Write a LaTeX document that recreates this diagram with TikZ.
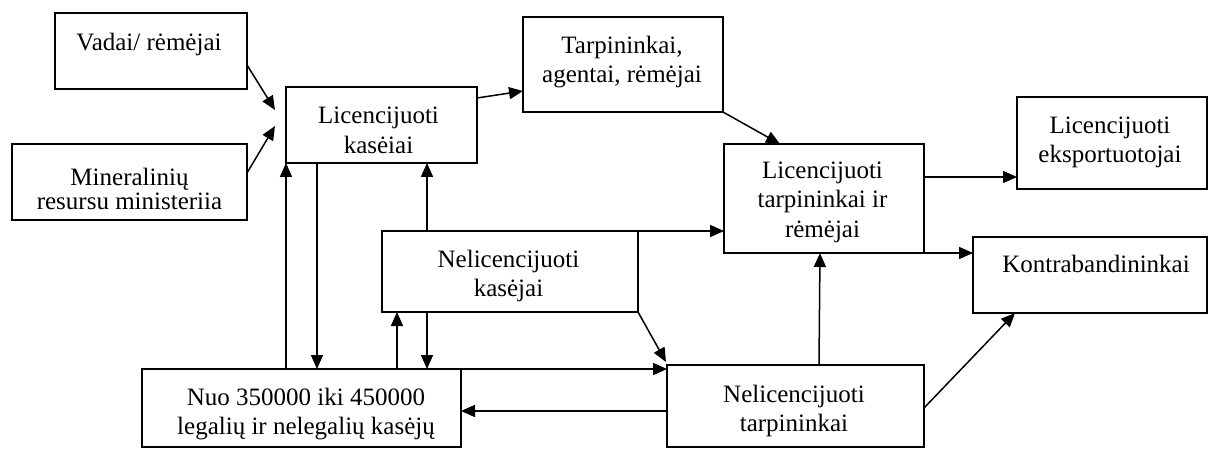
\documentclass[tikz,border=0pt]{standalone}
\usepackage{fontspec}
\setmainfont{Liberation Serif}
\usetikzlibrary{calc,arrows.meta}
\newcommand{\fl}{\rule{0pt}{20pt}}
\begin{document}
\begin{tikzpicture}[x=1pt,y=-1pt,
  box/.style={draw, line width=1.5pt, rectangle, inner sep=0pt, outer sep=0pt},
  txt/.style={anchor=north, align=center, inner sep=0pt, font=\fontsize{25}{29.5}\selectfont},
  arr/.style={line width=1.5pt, -{Triangle[length=14pt,width=12pt]}}]
\useasboundingbox (0,0) rectangle (1211,449);
% boxes
\node[box, minimum width=192pt, minimum height=76pt] (vad) at (151,51) {};
\node[box, minimum width=235pt, minimum height=76pt] (min) at (129.5,182) {};
\node[box, minimum width=191pt, minimum height=76pt] (lk) at (381.5,125) {};
\node[box, minimum width=200pt, minimum height=95pt] (tar) at (623,64.5) {};
\node[box, minimum width=200pt, minimum height=109pt] (lt) at (824,198.5) {};
\node[box, minimum width=190pt, minimum height=92pt] (eks) at (1112,143) {};
\node[box, minimum width=234pt, minimum height=76pt] (kon) at (1090,275) {};
\node[box, minimum width=256pt, minimum height=81pt] (nk) at (510,271.5) {};
\node[box, minimum width=319pt, minimum height=78pt] (nuo) at (301.5,408) {};
\node[box, minimum width=257pt, minimum height=82pt] (nt) at (795.5,406) {};
% texts
\node[txt] (vadt) at (149,30) {\fl Vadai/ rėmėjai};
\node[txt, font=\fontsize{25}{24}\selectfont] (mint) at (129.5,165) {\fl Mineralinių\\resursu ministeriia};
\node[txt, font=\fontsize{25}{30}\selectfont] (lkt) at (378.5,103) {\fl Licencijuoti\\kasėiai};
\node[txt] (tart) at (622,33) {\fl Tarpininkai,\\agentai, rėmėjai};
\node[txt] (ltt) at (822.5,158) {\fl Licencijuoti\\tarpininkai ir\\rėmėjai};
\node[txt] (ekst) at (1110,113) {\fl Licencijuoti\\eksportuotojai};
\node[txt] (kont) at (1096,252) {\fl Kontrabandininkai};
\node[txt] (nkt) at (508.5,247) {\fl Nelicencijuoti\\kasėjai};
\node[txt] (nuot) at (306,385) {\fl Nuo 350000 iki 450000\\legalių ir nelegalių kasėjų};
\node[txt] (ntt) at (794,382) {\fl Nelicencijuoti\\tarpininkai};
% free ends
\coordinate (c1) at (275,110);
\coordinate (c2) at (275,126);
% connectors
\draw[arr] ($(vad.east)+(0,14)$) -- (c1);
\draw[arr] ($(min.east)+(0,-9)$) -- (c2);
\draw[arr] ($(lk.north east)+(0,11)$) -- ($(tar.south west)+(0,-21)$);
\draw[arr] (tar.south east) -- ($(lt.north west)+(56,0)$);
\draw[arr] ($(lt.north east)+(0,33)$) coordinate (p1) -- (p1 -| eks.west);
\draw[arr] (lt.south east) -- (lt.south east -| kon.west);
\draw[arr] ($(nt.north west)+(152,0)$) -- ($(lt.south west)+(96,0)$);
\draw[arr] ($(nt.north east)+(0,43)$) -- ($(kon.south west)+(42,0)$);
\draw[arr] (nk.north east) -- (nk.north east -| lt.west);
\draw[arr] (nk.south east) -- ($(nt.north west)+(-1,-3)$);
\draw[arr] (nuo.north east) -- (nuo.north east -| nt.west);
\draw[arr] ($(nt.west)+(0,5)$) coordinate (p2) -- (p2 -| nuo.east);
\draw[arr] (lk.south west |- nuo.north) -- (lk.south west);
\draw[arr] ($(lk.south west)+(31,0)$) coordinate (p3) -- (p3 |- nuo.north);
\draw[arr] ($(nk.north west)+(45,0)$) coordinate (p4) -- (p4 |- lk.south);
\draw[arr] ($(nk.south west)+(15,0)$) coordinate (p5) ++(0,57) -- (p5);
\draw[arr] ($(nk.south west)+(45,0)$) coordinate (p6) -- (p6 |- nuo.north);
\end{tikzpicture}
\end{document}
